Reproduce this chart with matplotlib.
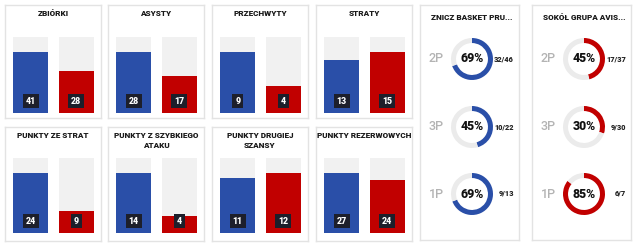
import numpy as np
import matplotlib
matplotlib.use("Agg")
import matplotlib.pyplot as plt

plt.rcParams['font.family'] = ['Roboto', 'DejaVu Sans']

# dane
bar_titles = ['ZBIÓRKI', 'ASYSTY', 'PRZECHWYTY', 'STRATY',
              'PUNKTY ZE STRAT', 'PUNKTY Z SZYBKIEGO\nATAKU',
              'PUNKTY DRUGIEJ\nSZANSY', 'PUNKTY REZERWOWYCH']
home_vals = [41, 28, 9, 13, 24, 14, 11, 27]
away_vals = [28, 17, 4, 15, 9, 4, 12, 24]

team_names = ['ZNICZ BASKET PRU...', 'SOKÓŁ GRUPA AVIS...']
shot_labels = ['2P', '3P', '1P']
home_made = [32, 10, 9]
home_att = [46, 22, 13]
away_made = [17, 9, 6]
away_att = [37, 30, 7]

BLUE = '#2a4fa8'
RED = '#c10000'
BG = '#f1f1f1'
EDGE = '#e3e3e3'
DARK = '#1d1f2b'

W, H = 640, 249
fig = plt.figure(figsize=(W / 100, H / 100), dpi=100)


def add_ax(l, t, r, b):
    return fig.add_axes([l / W, 1 - b / H, (r - l) / W, (b - t) / H])


def frame(l, t, r, b):
    ax = add_ax(l, t, r, b)
    ax.set_xticks([])
    ax.set_yticks([])
    for s in ax.spines.values():
        s.set_color(EDGE)
        s.set_linewidth(1)
    ax.patch.set_alpha(0)
    return ax


# panele ze slupkami
cols = [5, 108, 212, 316]
rows = [(5, 118, 37, 113, [14]), (127, 241, 158, 233, [135, 146])]
for k in range(8):
    row = rows[k // 4]
    left = cols[k % 4]
    top, bot, bgtop, bgbot, ty = row
    frame(left, top, left + 96, bot)
    lines = bar_titles[k].split('\n')
    for j, line in enumerate(lines):
        fig.text((left + 48) / W, 1 - ty[j] / H, line, ha='center', va='center',
                 fontsize=5.9, fontweight='heavy', color='#1a1a1a')

    ax = add_ax(left + 8, bgtop, left + 89, bgbot)
    vals = [home_vals[k], away_vals[k]]
    full = max(vals) / 0.8
    x = np.arange(2)
    ax.bar(x, [full, full], width=0.78, color=BG)
    ax.bar(x, vals, width=0.78, color=[BLUE, RED])
    ax.set_xlim(-0.39, 1.39)
    ax.set_ylim(0, full)
    ax.axis('off')
    for i, v in enumerate(vals):
        ax.annotate(str(v), xy=(i, 0), xytext=(0, 8.5), textcoords='offset points',
                    ha='center', va='center', fontsize=6.3, fontweight='heavy',
                    color='white',
                    bbox=dict(boxstyle='square,pad=0.32', fc=DARK, ec='none'))

# panele z rzutami
dcols = [(420, 472, BLUE, home_made, home_att), (532, 584, RED, away_made, away_att)]
dys = [59, 127, 194]
R = 21
for t, (left, cx, col, made, att) in enumerate(dcols):
    frame(left, 5, left + 99, 240)
    fig.text((left + 11) / W, 1 - 17 / H, team_names[t], ha='left', va='center',
             fontsize=5.9, fontweight='heavy', color='#1a1a1a')
    for i, cy in enumerate(dys):
        ax = add_ax(cx - 25, cy - 25, cx + 25, cy + 25)
        m, a = made[i], att[i]
        ax.pie([m, a - m], colors=[col, '#ebebeb'], startangle=90,
               counterclock=False, radius=1,
               wedgeprops=dict(width=0.24, edgecolor='none'))
        ax.set_xlim(-25 / R, 25 / R)
        ax.set_ylim(-25 / R, 25 / R)
        ax.set_aspect('equal')
        ax.axis('off')
        pct = int(100 * m / a)
        ax.text(0, 0, f'{pct}%', ha='center', va='center', fontsize=8.8,
                fontweight='heavy', color='#111111')
        ax.text(-36 / R, 0, shot_labels[i], ha='center', va='center',
                fontsize=9, fontweight='medium', color='#b3b3b3')
        ax.text(42 / R, 0, f'{m}/{a}', ha='right', va='center', fontsize=5.3,
                fontweight='heavy', color='#222222')

fig.savefig('out.png', dpi=100, facecolor='white')
